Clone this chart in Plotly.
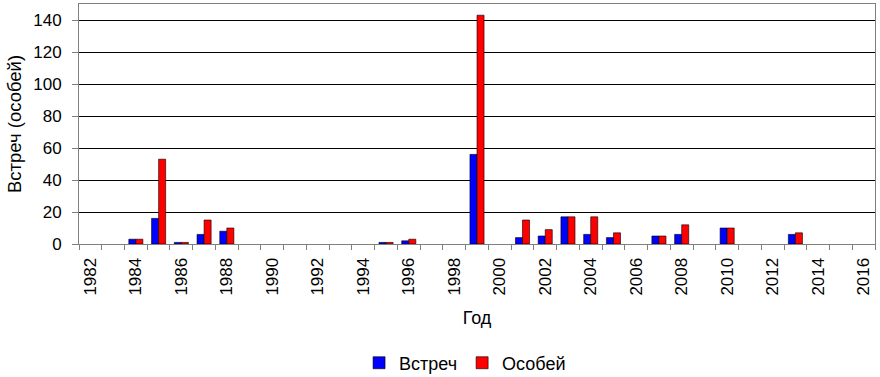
import plotly.graph_objects as go

years = [1984, 1985, 1986, 1987, 1988, 1995, 1996, 1999, 2001, 2002, 2003,
         2004, 2005, 2007, 2008, 2010, 2013]
vstrech = [3, 16, 1, 6, 8, 1, 2, 56, 4, 5, 17, 6, 4, 5, 6, 10, 6]
osobey = [3, 53, 1, 15, 10, 1, 3, 143, 15, 9, 17, 17, 7, 5, 12, 10, 7]
tick_years = list(range(1982, 2017, 2))
y_ticks = list(range(0, 141, 20))

font_family = "Liberation Sans, Arial, sans-serif"

fig = go.Figure()
fig.add_trace(go.Bar(x=years, y=vstrech, name="Встреч",
                     marker=dict(color="#0000FF", line=dict(color="#000000", width=0.6))))
fig.add_trace(go.Bar(x=years, y=osobey, name="Особей",
                     marker=dict(color="#FF0000", line=dict(color="#000000", width=0.6))))

fig.update_layout(
    width=880, height=377,
    margin=dict(l=79, r=5, t=4, b=133, autoexpand=False),
    paper_bgcolor="white", plot_bgcolor="white",
    barmode="group", bargap=0.38, bargroupgap=0,
    font=dict(family=font_family, size=17, color="black"),
    showlegend=True,
    legend=dict(orientation="h", x=0.485, xanchor="center", y=-0.496, yanchor="middle",
                font=dict(size=18), itemwidth=30, traceorder="normal"),
    xaxis=dict(
        automargin=False,
        range=[1981.5, 2016.5], tickmode="array", tickvals=tick_years,
        ticktext=[str(t) for t in tick_years], tickangle=-90,
        ticks="", showgrid=False, zeroline=False,
        showline=True, linecolor="#808080", linewidth=1, mirror=True,
        tickfont=dict(size=17), ticklabelstandoff=6,
        minor=dict(tickmode="linear", tick0=1981.5, dtick=1, ticks="outside",
                   ticklen=5, tickcolor="#808080", showgrid=False),
        title=dict(text="Год", font=dict(size=18), standoff=16),
    ),
    yaxis=dict(
        automargin=False,
        range=[0, 150], tickmode="array", tickvals=y_ticks,
        ticks="outside", ticklen=6, tickcolor="#808080",
        showgrid=True, gridcolor="#000000", gridwidth=1, zeroline=False,
        showline=True, linecolor="#808080", linewidth=1, mirror=True,
        tickfont=dict(size=17), ticklabelstandoff=7,
        title=dict(text="Встреч (особей)", font=dict(size=18.5), standoff=6),
    ),
)

fig.write_html(
    "out.html",
    config={"displayModeBar": False},
    post_script="document.body.style.margin='0';document.body.style.overflow='hidden';",
)
